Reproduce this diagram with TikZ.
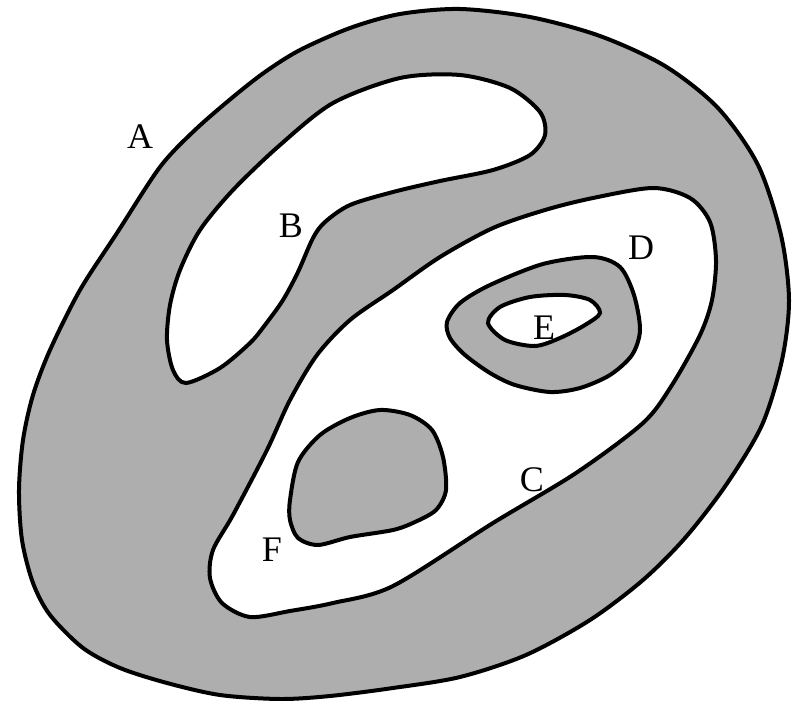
\documentclass[tikz,border=0pt]{standalone}
\usepackage{fontspec}
\setmainfont{Liberation Serif}
\definecolor{speckle}{RGB}{174,174,174}
\tikzset{
  grayregion/.style={draw=black,line width=4pt,fill=speckle},
  whiteregion/.style={draw=black,line width=4pt,fill=white},
  regionlabel/.style={font=\fontsize{36}{40}\selectfont,inner sep=0pt}
}
\begin{document}
\begin{tikzpicture}[x=1pt,y=-1pt]
\useasboundingbox (0,0) rectangle (793,701);
% outer region A
\filldraw[grayregion] plot[smooth cycle,tension=0.5] coordinates {
  (460,9) (530,17) (600,36) (665,66) (718,108) (758,165) (781,235) (789,300)
  (782,360) (762,425) (726,485) (685,538) (643,580) (590,620) (526,655)
  (460,677) (393,688) (330,696) (280,699) (220,695) (167,683) (120,668)
  (83,648) (50,615) (33,583) (22,540) (19,490) (23,440) (33,395) (50,350)
  (80,290) (117,233) (160,167) (195,130) (233,97) (265,72) (300,50)
  (350,28) (400,14)};
% hole B
\filldraw[whiteregion] plot[smooth cycle,tension=0.5] coordinates {
  (400,78) (460,75) (510,88) (540,112) (545,135) (530,155) (493,170)
  (440,181) (393,192) (350,205) (325,222) (313,238) (298,272) (283,300)
  (265,325) (250,343) (220,368) (186,383) (173,370) (167,340) (170,305)
  (180,270) (200,230) (233,190) (280,145) (333,103)};
% region C
\filldraw[whiteregion] plot[smooth cycle,tension=0.5] coordinates {
  (393,290) (440,257) (493,228) (545,210) (593,198) (653,188) (690,198)
  (710,222) (716,260) (712,300) (700,335) (672,385) (643,423) (576,473)
  (493,523) (393,586) (333,603) (290,611) (250,617) (222,603) (210,578)
  (213,550) (233,515) (267,450) (290,400) (317,355) (350,320)};
% region D
\filldraw[grayregion] plot[smooth cycle,tension=0.5] coordinates {
  (447,322) (460,303) (490,285) (543,264) (593,257) (620,267) (634,295)
  (640,330) (632,355) (610,375) (580,388) (550,392) (515,385) (490,373)
  (465,355) (450,338)};
% hole E
\filldraw[whiteregion] plot[smooth cycle,tension=0.5] coordinates {
  (488,323) (500,307) (530,297) (565,295) (590,300) (600,313) (585,325)
  (560,338) (535,346) (505,340)};
% region F
\filldraw[grayregion] plot[smooth cycle,tension=0.5] coordinates {
  (290,500) (298,462) (320,435) (350,418) (380,410) (410,415) (432,430)
  (443,457) (446,490) (436,510) (415,522) (393,530) (350,537) (318,545)
  (298,538) (290,520)};
% labels
\node[regionlabel] (labA) at (140,137) {A};
\node[regionlabel] (labB) at (291,226) {B};
\node[regionlabel] (labC) at (532,480) {C};
\node[regionlabel] (labD) at (641,248) {D};
\node[regionlabel] (labE) at (544,328) {E};
\node[regionlabel] (labF) at (272,550) {F};
\end{tikzpicture}
\end{document}
